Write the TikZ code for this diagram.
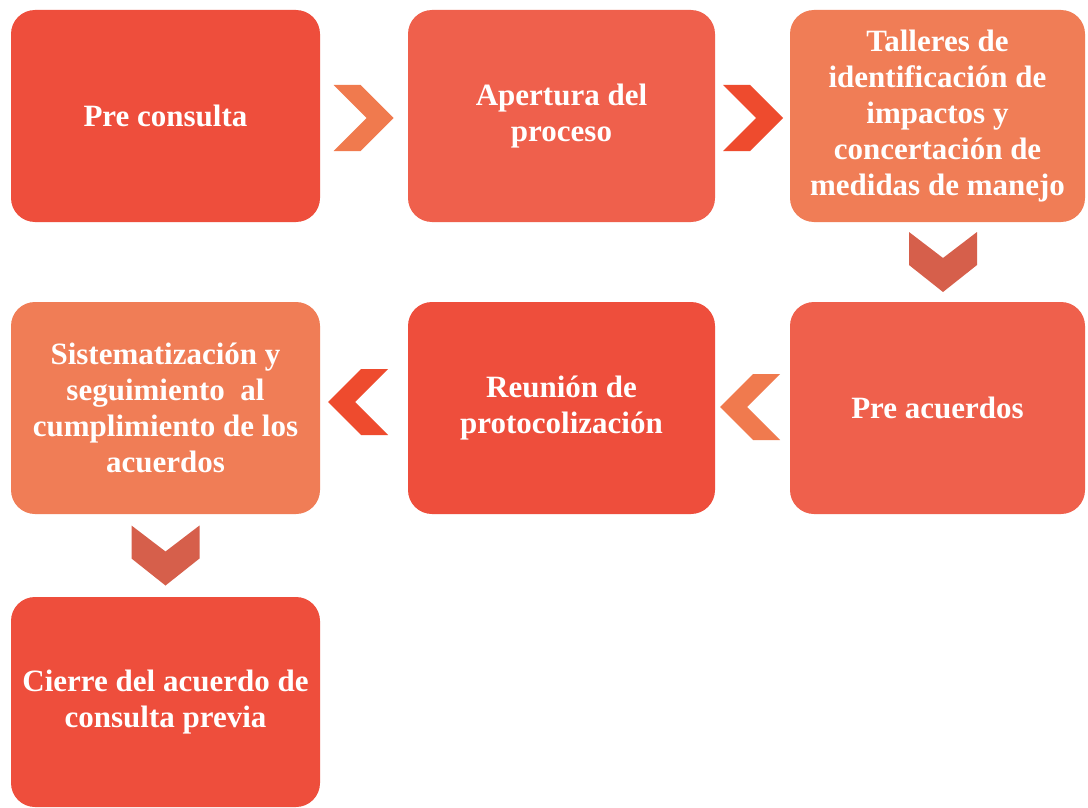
\documentclass[tikz,border=0pt]{standalone}
\usepackage{fontspec}
\setmainfont{Liberation Serif}
\definecolor{cRedA}{HTML}{EE4E3C}
\definecolor{cRedB}{HTML}{EF604C}
\definecolor{cOrg}{HTML}{F07D56}
\definecolor{chOrg}{HTML}{F07A4E}
\definecolor{chRed}{HTML}{EE4B2E}
\definecolor{chBrn}{HTML}{D65F4B}
\begin{document}
\begin{tikzpicture}[x=1pt,y=-1pt,
  box/.style={rounded corners=24pt, inner sep=0pt, align=center, text=white,
    font=\bfseries\fontsize{31}{36}\selectfont},
  wA/.style={minimum width=309pt},
  wB/.style={minimum width=307pt},
  wC/.style={minimum width=295pt},
  hR/.style={minimum height=212pt},
  chevR/.pic={\fill[#1] (-30,-33) -- (-3,-33) -- (30,0) -- (-3,33) -- (-30,33) -- (3,0) -- cycle;},
  chevL/.pic={\fill[#1] (30,-33) -- (3,-33) -- (-30,0) -- (3,33) -- (30,33) -- (-3,0) -- cycle;},
  chevD/.pic={\fill[#1] (-34,-30) -- (0,-4) -- (34,-30) -- (34,3) -- (0,30) -- (-34,3) -- cycle;}
]
\useasboundingbox (0,0) rectangle (1088,808);
\fill[white] (0,0) rectangle (1088,808);

\node[box,wA,hR,fill=cRedA] (b1) at (165.5,116) {Pre consulta};
\node[box,wB,hR,fill=cRedB] (b2) at (561.5,116) {Apertura del\\proceso};
\node[box,wC,hR,fill=cOrg]  (b3) at (937.5,116) {Talleres de\\identificación de\\impactos y\\concertación de\\medidas de manejo};

\node[box,wA,hR,fill=cOrg]  (b4) at (165.5,408) {Sistematización y\\seguimiento \ al\\cumplimiento de los\\acuerdos};
\node[box,wB,hR,fill=cRedA] (b5) at (561.5,408) {Reunión de\\protocolización};
\node[box,wC,hR,fill=cRedB] (b6) at (937.5,408) {Pre acuerdos};

\node[box,wA,minimum height=210pt,fill=cRedA] (b7) at (165.5,702) {Cierre del acuerdo de\\consulta previa};

\path (b1.east) -- (b2.west) coordinate[midway] (c12);
\path (b2.east) -- (b3.west) coordinate[midway] (c23);
\path (b3.south) -- (b6.north) coordinate[midway] (c36);
\path (b6.west) -- (b5.east) coordinate[midway] (c65);
\path (b5.west) -- (b4.east) coordinate[midway] (c54);
\path (b4.south) -- (b7.north) coordinate[midway] (c47);

\pic at ([xshift=-0.5pt,yshift=-2pt]c12) {chevR=chOrg};
\pic at ([xshift=0.5pt,yshift=-2pt]c23) {chevR=chRed};
\pic at ([xshift=5.5pt]c36) {chevD=chBrn};
\pic at ([xshift=-2.5pt,yshift=1pt]c65) {chevL=chOrg};
\pic at ([xshift=-6pt,yshift=6pt]c54) {chevL=chRed};
\pic at (c47) {chevD=chBrn};
\end{tikzpicture}
\end{document}
